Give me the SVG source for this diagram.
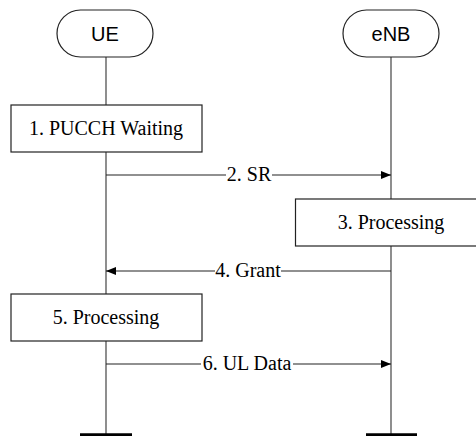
<svg xmlns="http://www.w3.org/2000/svg" width="476" height="436" viewBox="0 0 476 436">
<style>
.life{stroke:#444;stroke-width:1.2;fill:none}
.bar{stroke:#000;stroke-width:3.5}
.box{fill:#fff;stroke:#222;stroke-width:1.2}
.ent{font-family:'Liberation Sans',Arial,sans-serif;font-size:20px;fill:#000;text-anchor:middle}
.lbl{font-family:'Liberation Serif','Times New Roman',serif;font-size:20px;fill:#000;text-anchor:middle}
.msg{stroke:#222;stroke-width:1.2;fill:none}
.bg{fill:#fff}
</style>
<defs>
<marker id="ah" viewBox="0 0 10 8" refX="10" refY="4" markerWidth="10" markerHeight="8" markerUnits="userSpaceOnUse" orient="auto">
<path d="M0,0 L10,4 L0,8 Z" fill="#000"/>
</marker>
</defs>
<g id="lifelines">
<line class="life" x1="106" y1="57" x2="106" y2="434"/>
<line class="life" x1="391" y1="57" x2="391" y2="434"/>
<line class="bar" x1="80" y1="435" x2="132" y2="435"/>
<line class="bar" x1="366" y1="435" x2="417" y2="435"/>
</g>
<g id="UE">
<rect class="box" x="57" y="10" width="96" height="47" rx="23.5"/>
<text class="ent" x="105" y="41">UE</text>
</g>
<g id="eNB">
<rect class="box" x="343" y="10" width="96" height="47" rx="23.5"/>
<text class="ent" x="391" y="41">eNB</text>
</g>
<g id="step1">
<rect class="box" x="11" y="105" width="191" height="47"/>
<text class="lbl" x="106" y="135">1. PUCCH Waiting</text>
</g>
<g id="step3">
<rect class="box" x="295.5" y="199" width="191" height="47"/>
<text class="lbl" x="391" y="229">3. Processing</text>
</g>
<g id="step5">
<rect class="box" x="11" y="294" width="191" height="47"/>
<text class="lbl" x="106" y="324">5. Processing</text>
</g>
<g id="connectors">
<line class="msg" x1="106" y1="175" x2="391" y2="175" marker-end="url(#ah)"/>
<rect class="bg" x="226" y="165" width="46" height="20"/>
<text class="lbl" x="249" y="181">2. SR</text>
<line class="msg" x1="391" y1="271" x2="106" y2="271" marker-end="url(#ah)"/>
<rect class="bg" x="215" y="261" width="66" height="20"/>
<text class="lbl" x="248" y="277">4. Grant</text>
<line class="msg" x1="106" y1="364" x2="391" y2="364" marker-end="url(#ah)"/>
<rect class="bg" x="201" y="354" width="92" height="20"/>
<text class="lbl" x="247" y="370">6. UL Data</text>
</g>
</svg>
